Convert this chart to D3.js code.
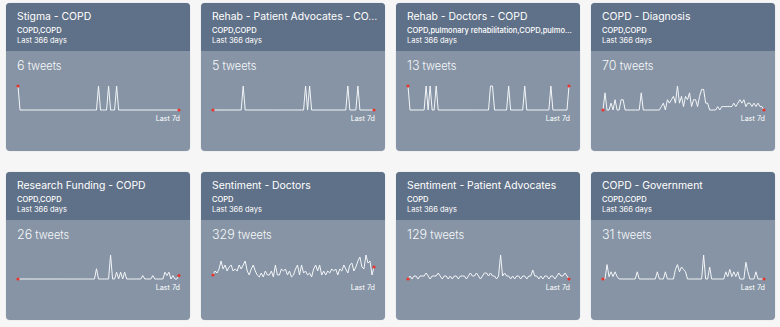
<!DOCTYPE html>
<html>
<head>
<meta charset="utf-8">
<script src="https://cdn.jsdelivr.net/npm/d3@7"></script>
<style>
html,body{margin:0;padding:0;background:#f6f6f6;}
svg{display:block;}
</style>
</head>
<body>
<div id="chart"></div>
<script>
// ---- data ----
const titles = ["Stigma - COPD", "Rehab - Patient Advocates - CO…", "Rehab - Doctors - COPD", "COPD - Diagnosis",
  "Research Funding - COPD", "Sentiment - Doctors", "Sentiment - Patient Advocates", "COPD - Government"];
const keywords = ["COPD,COPD", "COPD,COPD", "COPD,pulmonary rehabilitation,COPD,pulmo…", "COPD,COPD",
  "COPD,COPD", "COPD", "COPD", "COPD,COPD"];
const periods = ["Last 366 days","Last 366 days","Last 366 days","Last 366 days",
  "Last 366 days","Last 366 days","Last 366 days","Last 366 days"];
const tweetCounts = [6, 5, 13, 70, 26, 329, 129, 31];
const endLabel = "Last 7d";

const stigma = [
1,0,0,0,0,0,0,0,0,0, 0,0,0,0,0,0,0,0,0,0, 0,0,0,0,0,0,0,0,0,0, 0,0,0,0,0,0,0,0,0,0,
1,0,0,0,0,1,0,0,0,1, 0,0,0,0,0,0,0,0,0,0, 0,0,0,0,0,0,0,0,0,0, 0,0,0,0,0,0,0,0,0,0, 0];
const rehabPatients = [
0,0,0,0,0,0,0,0,0,0, 0,0,0,0,0,1,0,0,0,0, 0,0,0,0,0,0,0,0,0,0, 0,0,0,0,0,0,0,0,0,0,
0,0,0,0,0,0,1,0,1,0, 0,0,0,0,0,0,0,0,0,0, 0,0,0,0,0,0,0,1,0,0, 0,0,1,0,0,0,0,0,0,0, 0];
const rehabDoctors = [
1,0,0,0,0,0,0,0,0,1, 0,1,0,0,1,0,0,0,0,0, 0,0,0,0,0,0,0,0,0,0, 0,0,0,0,0,0,0,0,0,0,
0,1,1,0,0,0,0,0,0,0, 1,0,0,0,0,0,0,0,1,0, 0,0,0,0,0,0,0,0,0,0, 0,1,0,0,0,0,0,0,0,0, 1];
const diagnosis = [
0,5,0,0,2,0,3,0,0,3, 3,0,0,0,0,0,0,0,0,5, 0,0,0,0,0,0,0,0,0,1, 2,0,3,2,3,4,2,7,2,4,
1,4,3,5,1,3,3,1,4,6, 6,2,2,0,0,0,0,1,0,1, 1,1,1,1,1,2,1,2,3,2, 3,1,2,2,1,2,1,2,1,1, 0];
const research = [
0,0,0,0,0,0,0,0,0,0, 0,0,0,0,0,0,0,0,0,0, 0,0,0,0,0,0,0,0,0,0, 0,0,0,0,0,0,0,0,0,3,
0,0,0,0,0,0,7,0,0,2, 0,2,0,2,0,0,0,0,0,0, 0,0,1,0,0,0,0,1,0,0, 0,0,0,2,1,2,0,1,0,0, 1];
const sentDoctors = [
2,4,3,5,9,5,7,4,6,7, 4,5,4,7,5,7,9,4,2,5, 7,4,2,1,3,1,4,2,2,4, 1,7,2,2,5,4,5,2,4,1,
2,5,7,2,7,3,4,2,3,1, 5,7,4,7,2,4,2,4,3,5, 4,5,2,5,4,7,5,3,7,8, 4,6,9,11,6,5,12,8,9,2, 6];
const sentPatients = [
0,1,0,1,1,0,1,1,1,2, 1,0,1,1,1,2,1,0,1,1, 0,1,0,1,1,0,1,1,1,0, 1,2,1,1,2,1,0,1,2,2,
1,2,1,1,0,1,8,1,2,1, 1,0,1,0,1,1,0,1,1,0, 1,1,3,1,1,0,1,0,1,1, 0,1,1,0,1,2,1,1,2,1, 0];
const government = [
0,0,6,1,3,1,3,1,0,0, 0,0,0,0,0,0,0,3,0,0, 0,0,0,0,0,0,0,3,0,0, 0,3,0,0,0,0,4,6,3,5,
4,3,0,0,0,0,0,0,0,0, 10,0,0,5,0,0,0,0,0,0, 0,3,1,4,1,3,1,3,0,0, 0,7,3,0,0,0,3,0,0,0, 0];
const seriesList = [stigma, rehabPatients, rehabDoctors, diagnosis, research, sentDoctors, sentPatients, government];

// ---- layout ----
const W = 780, H = 327;
const cardW = 184, cardH = 148, headerH = 48;
const colStep = 195, rowStep = 169, x0 = 6, y0 = 3;

const svg = d3.select("#chart").append("svg")
  .attr("width", W).attr("height", H)
  .style("font-family", "Inter, 'Noto Sans', sans-serif");
svg.append("rect").attr("width", W).attr("height", H).attr("fill", "#f6f6f6");

const defs = svg.append("defs");
defs.append("clipPath").attr("id", "cardclip")
  .append("rect").attr("width", cardW).attr("height", cardH).attr("rx", 4).attr("ry", 4);

const x = d3.scaleLinear().domain([0, stigma.length - 1]).range([12, 173]);

titles.forEach((t, i) => {
  const col = i % 4, row = Math.floor(i / 4);
  const g = svg.append("g").attr("transform", `translate(${x0 + col * colStep},${y0 + row * rowStep})`);
  g.append("rect").attr("x", -0.5).attr("y", -0.5).attr("width", cardW + 1).attr("height", cardH + 1)
    .attr("rx", 4.5).attr("fill", "#e6e8eb");
  const c = g.append("g").attr("clip-path", "url(#cardclip)");
  c.append("rect").attr("width", cardW).attr("height", cardH).attr("fill", "#8694a5");
  c.append("rect").attr("width", cardW).attr("height", headerH).attr("fill", "#5f7188");

  g.append("text").attr("x", 11).attr("y", 17).attr("fill", "#ffffff")
    .attr("font-size", 10.4).attr("font-weight", 400).text(t);
  g.append("text").attr("x", 11).attr("y", 29.5).attr("fill", "#ffffff")
    .attr("font-size", 7.5).attr("font-weight", 500).text(keywords[i]);
  g.append("text").attr("x", 11).attr("y", 40).attr("fill", "#ffffff")
    .attr("font-size", 7.5).attr("font-weight", 400).text(periods[i]);

  const ct = g.append("text").attr("x", 11).attr("y", 67).attr("fill", "#f7f8fa").attr("font-weight", 300);
  ct.append("tspan").attr("font-size", 12.5).text(tweetCounts[i]);
  ct.append("tspan").attr("font-size", 11).text(" tweets");

  const data = seriesList[i];
  const y = d3.scaleLinear().domain([0, d3.max(data)]).range([107, 83]);
  const line = d3.line().x((d, j) => x(j)).y(d => y(d));
  g.append("path").datum(data).attr("d", line)
    .attr("fill", "none").attr("stroke", "#f4f6f8").attr("stroke-width", 1).attr("stroke-linejoin", "round");
  const ends = [0, data.length - 1];
  g.selectAll("circle.end").data(ends).enter().append("circle")
    .attr("cx", j => x(j)).attr("cy", j => y(data[j])).attr("r", 1.6).attr("fill", "#e8362f");

  g.append("text").attr("x", 174).attr("y", 118).attr("text-anchor", "end").attr("fill", "#ffffff")
    .attr("font-size", 7.2).attr("font-weight", 400).text(endLabel);
});
</script>
</body>
</html>
